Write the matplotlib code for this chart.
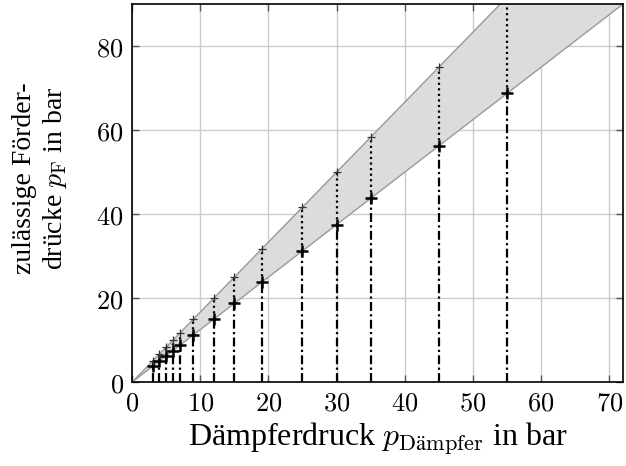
import matplotlib
matplotlib.use("Agg")
import matplotlib.pyplot as plt
import numpy as np

# Damper pressures (bar) and the admissible feed-pressure limits
p_daempfer = [3, 4, 5, 6, 7, 9, 12, 15, 19, 25, 30, 35, 45, 55]
p_lower = [3.75, 5, 6.25, 7.5, 8.75, 11.25, 15, 18.75, 23.75, 31.25, 37.5, 43.75, 56.25, 68.75]
p_upper = [5, 6.67, 8.33, 10, 11.67, 15, 20, 25, 31.67, 41.67, 50, 58.33, 75, 91.67]

# Band boundaries
band_x = [0, 72]
band_low = [0, 90]
band_high = [0, 120]

xticks = [0, 10, 20, 30, 40, 50, 60, 70]
yticks = [0, 20, 40, 60, 80]

plt.rcParams["mathtext.fontset"] = "cm"
plt.rcParams["font.family"] = "DejaVu Serif"

fig = plt.figure(figsize=(6.26, 4.66), dpi=100)
ax = fig.add_axes([0.211, 0.180, 0.784, 0.811])

ax.fill_between(band_x, band_low, band_high, color="#dcdcdc", zorder=1, lw=0)
ax.plot(band_x, band_low, color="#999999", lw=1.0, zorder=2)
ax.plot(band_x, band_high, color="#999999", lw=1.0, zorder=2)

for x, lo, hi in zip(p_daempfer, p_lower, p_upper):
    ax.plot([x, x], [0, lo], color="black", lw=1.6, ls=(0, (4, 1.5, 1, 1.5)), zorder=3)
    ax.plot([x, x], [lo, hi], color="black", lw=1.6, ls=(0, (1, 1.5)), zorder=3)
    ax.plot([x], [lo], marker="+", color="black", ms=8, mew=1.8, zorder=4)
    ax.plot([x], [hi], marker="+", color="#333333", ms=6, mew=0.9, ls="none",
            zorder=4)

ax.set_xlim(0, 72)
ax.set_ylim(0, 90)
ax.set_xticks(xticks)
ax.set_yticks(yticks)
ax.set_xticklabels([f"${t}$" for t in xticks], fontsize=19)
ax.set_yticklabels([f"${t}$" for t in yticks], fontsize=19)
ax.grid(True, color="#cccccc", lw=1.0, zorder=0)
ax.set_axisbelow(True)
ax.tick_params(direction="in", length=5, width=1, color="#555555",
               top=True, right=True, pad=6)
for s in ax.spines.values():
    s.set_linewidth(1.2)

ax.set_xlabel(r"Dämpferdruck $p_{\mathrm{Dämpfer}}$ in bar", fontsize=23,
              family="Liberation Serif", labelpad=4)
ax.set_ylabel("zulässige Förder-\n" + r"drücke $p_{\mathrm{F}}$ in bar", fontsize=20,
              family="Liberation Serif", linespacing=1.2)
ax.yaxis.set_label_coords(-0.128, 0.54)

fig.savefig("out.png", dpi=100)
